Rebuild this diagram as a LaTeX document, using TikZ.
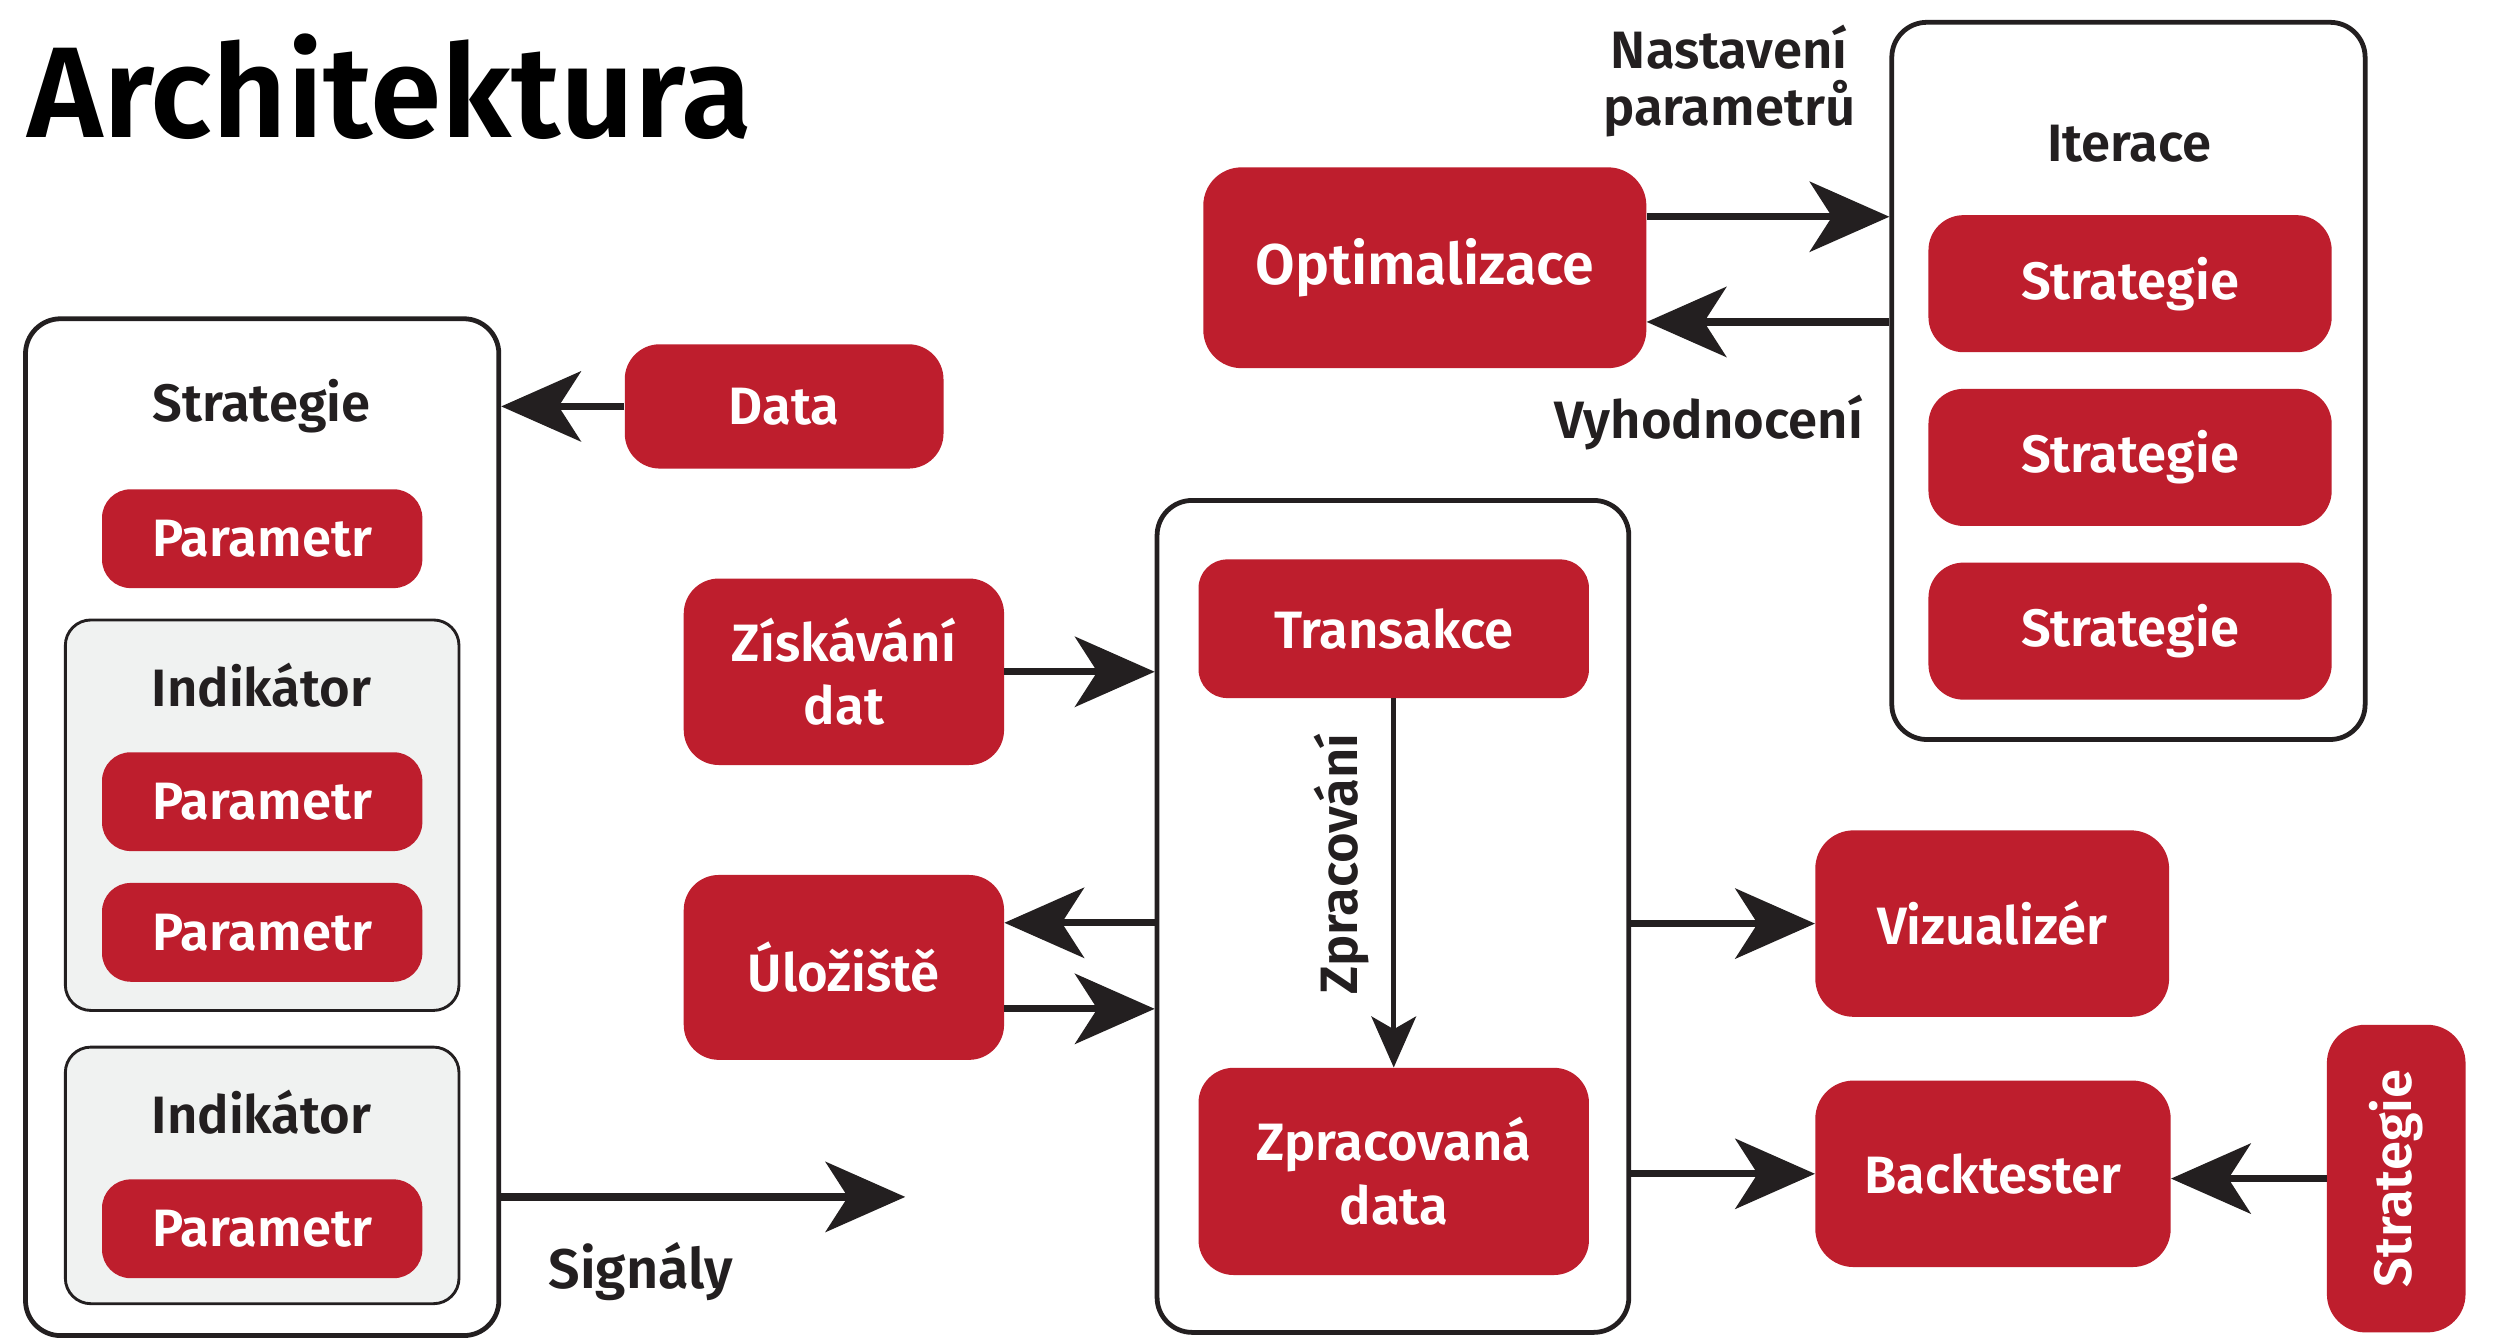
\documentclass[tikz,border=0pt]{standalone}
\usepackage{fontspec}
\setmainfont{Fira Sans}[BoldFont={Fira Sans SemiBold}]
\usetikzlibrary{arrows.meta,calc}
\definecolor{cred}{HTML}{BE1E2D}
\definecolor{cink}{HTML}{231F20}
\definecolor{cgray}{HTML}{F0F2F1}
\tikzset{
  redbox/.style={draw=none, fill=cred, rounded corners=18pt, text=white, inner sep=0pt,
    font=\fontsize{33}{40}\selectfont\bfseries, align=center},
  container/.style={draw=cink, line width=3pt, fill=white, rounded corners=22pt, inner sep=0pt},
  subbox/.style={draw=cink, line width=1.8pt, fill=cgray, rounded corners=16pt, inner sep=0pt},
  lbl/.style={text=cink, font=\fontsize{33}{40}\selectfont\bfseries, inner sep=0pt, align=center},
  arr/.style={draw=cink, line width=4.5pt, -{Stealth[length=50pt,width=44pt,inset=14pt]}},
  thinarr/.style={draw=cink, line width=3pt, -{Stealth[length=32pt,width=28pt,inset=8pt]}},
}
\begin{document}
\begin{tikzpicture}[x=1pt,y=-1pt]
\useasboundingbox[fill=white] (0,0) rectangle (1568,843);

\node[text=black, font=\fontsize{81}{90}\selectfont\bfseries, anchor=base west, inner sep=0pt] (title) at (17,86) {Architektura};

% left strategy container
\node[container, minimum width=297pt, minimum height=638pt] (strat) at (164.5,519) {};
\node[lbl] (stratl) at (164,255) {Strategie};
\node[redbox, minimum width=201pt, minimum height=62pt] (p1) at (164.5,338) {Parametr};
\node[subbox, minimum width=247pt, minimum height=245pt] (ind1) at (164.5,511.5) {};
\node[lbl] (ind1l) at (164,430) {Indikátor};
\node[redbox, minimum width=201pt, minimum height=62pt] (p2) at (164.5,503) {Parametr};
\node[redbox, minimum width=201pt, minimum height=62pt] (p3) at (164.5,585) {Parametr};
\node[subbox, minimum width=247pt, minimum height=161pt] (ind2) at (164.5,737.5) {};
\node[lbl] (ind2l) at (164,698) {Indikátor};
\node[redbox, minimum width=201pt, minimum height=62pt] (p4) at (164.5,771) {Parametr};

% data
\node[redbox, minimum width=200pt, minimum height=78pt, rounded corners=22pt] (data) at (492,255) {Data};
\node[redbox, minimum width=201pt, minimum height=117pt, rounded corners=22pt] (zisk) at (529.5,421.5) {Získávání\\dat};
\node[redbox, minimum width=201pt, minimum height=116pt, rounded corners=22pt] (uloz) at (529.5,607) {Úložiště};

% processing container
\node[container, minimum width=296pt, minimum height=522pt] (proc) at (874,575) {};
\node[redbox, minimum width=245pt, minimum height=87pt] (trans) at (874.5,394.5) {Transakce};
\node[redbox, minimum width=245pt, minimum height=130pt, rounded corners=22pt] (zdata) at (874.5,735) {Zpracovaná\\data};

% optimization
\node[redbox, minimum width=278pt, minimum height=126pt, rounded corners=24pt, font=\fontsize{36}{42}\selectfont\bfseries] (opt) at (894,168) {Optimalizace};
\node[container, minimum width=297pt, minimum height=450pt] (iter) at (1335.5,239) {};
\node[lbl] (iterl) at (1336,90) {Iterace};
\node[redbox, minimum width=253pt, minimum height=86pt, rounded corners=22pt] (s1) at (1336.5,178) {Strategie};
\node[redbox, minimum width=253pt, minimum height=86pt, rounded corners=22pt] (s2) at (1336.5,287) {Strategie};
\node[redbox, minimum width=253pt, minimum height=86pt, rounded corners=22pt] (s3) at (1336.5,396) {Strategie};
\node[lbl] (nast) at (1085,51) {Nastavení\\[-4pt]parametrů};
\node[lbl] (vyh) at (1072,265) {Vyhodnocení};

% outputs
\node[redbox, minimum width=222pt, minimum height=117pt, rounded corners=24pt] (viz) at (1250,579.5) {Vizualizér};
\node[redbox, minimum width=223pt, minimum height=117pt, rounded corners=24pt] (back) at (1250.5,736.5) {Backtester};
\node[redbox, rotate=90, minimum width=193pt, minimum height=87pt, rounded corners=24pt] (stv) at (1503.5,739.5) {Strategie};

\node[lbl, font=\fontsize{35}{42}\selectfont\bfseries] (sig) at (402,798) {Signály};
\node[lbl, rotate=90] (zpr) at (842,542) {Zpracování};

% connectors
\draw[arr] (data.west) -- (data.west -| strat.east);
\coordinate (sigend) at (568,751);
\draw[arr] (sigend -| strat.east) -- (sigend);
\draw[arr] (zisk.east) -- (zisk.east -| proc.west);
\coordinate (u1) at ($(uloz.east)+(0,-28)$);
\coordinate (u2) at ($(uloz.east)+(0,26)$);
\draw[arr] (u1 -| proc.west) -- (u1);
\draw[arr] (u2) -- (u2 -| proc.west);
\draw[thinarr] (trans.south) -- (zdata.north);
\draw[arr] (viz.west -| proc.east) -- (viz.west);
\draw[arr] (back.west -| proc.east) -- (back.west);
\draw[arr] (stv.north) -- (stv.north -| back.east);
\coordinate (o1) at ($(opt.east)+(0,-32)$);
\coordinate (o2) at ($(opt.east)+(0,34)$);
\draw[arr] (o1) -- (o1 -| iter.west);
\draw[arr] (o2 -| iter.west) -- (o2);
\end{tikzpicture}
\end{document}
